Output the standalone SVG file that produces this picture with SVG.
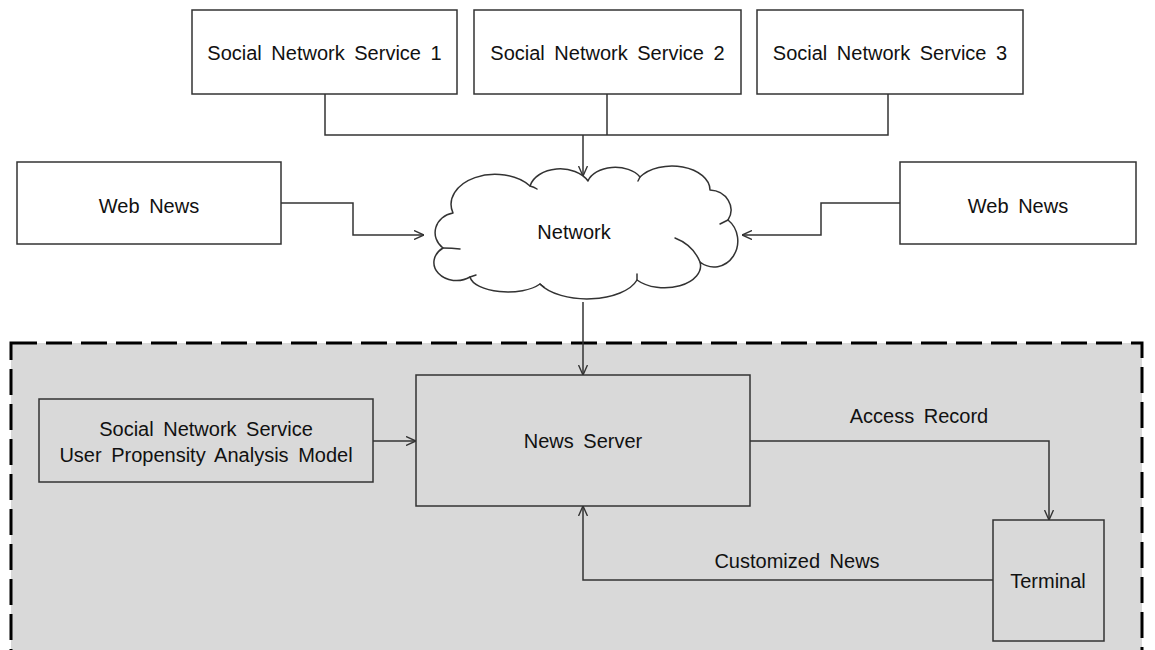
<svg xmlns="http://www.w3.org/2000/svg" width="1155" height="650" viewBox="0 0 1155 650">
  <style>
    .box { fill: #ffffff; stroke: #333333; stroke-width: 1.5; }
    .inner { fill: #d9d9d9; stroke: #333333; stroke-width: 1.5; }
    .lbl { font-family: "Liberation Sans", Arial, sans-serif; font-size: 20px; fill: #111111; text-anchor: middle; word-spacing: 4px; }
    .wire { fill: none; stroke: #333333; stroke-width: 1.5; }
    .cloud { fill: #ffffff; stroke: #333333; stroke-width: 1.5; stroke-linejoin: round; }
    .hook { fill: none; stroke: #333333; stroke-width: 1.5; stroke-linecap: round; }
  </style>
  <defs>
    <marker id="arrow" viewBox="0 0 10 10" refX="10" refY="5" markerWidth="10" markerHeight="10" markerUnits="userSpaceOnUse" orient="auto">
      <path d="M0,0.5 L10,5 L0,9.5" fill="none" stroke="#333333" stroke-width="1.4"/>
    </marker>
  </defs>

  <rect width="1155" height="650" fill="#ffffff"/>

  <!-- system boundary -->
  <g id="system-boundary">
    <rect x="11" y="343" width="1131" height="330" fill="#d9d9d9" stroke="#000000" stroke-width="3" stroke-dasharray="26 9"/>
  </g>

  <!-- connectors -->
  <g id="connectors">
    <path class="wire" d="M325,94 V135 H888 V94"/>
    <path class="wire" d="M607,94 V135"/>
    <path class="wire" d="M583,135 V176" marker-end="url(#arrow)"/>
    <path class="wire" d="M281,203 H353 V235 H424" marker-end="url(#arrow)"/>
    <path class="wire" d="M900,203 H821 V235 H742" marker-end="url(#arrow)"/>
    <path class="wire" d="M583,302 V375" marker-end="url(#arrow)"/>
    <path class="wire" d="M373,441 H416" marker-end="url(#arrow)"/>
    <path class="wire" d="M750,441 H1049 V520" marker-end="url(#arrow)"/>
    <path class="wire" d="M993,580 H583 V506" marker-end="url(#arrow)"/>
  </g>

  <g id="sns1">
    <rect class="box" x="192" y="10" width="265" height="84"/>
    <text class="lbl" x="324.5" y="60">Social Network Service 1</text>
  </g>
  <g id="sns2">
    <rect class="box" x="474" y="10" width="267" height="84"/>
    <text class="lbl" x="607.5" y="60">Social Network Service 2</text>
  </g>
  <g id="sns3">
    <rect class="box" x="757" y="10" width="266" height="84"/>
    <text class="lbl" x="890" y="60">Social Network Service 3</text>
  </g>

  <g id="web-news-left">
    <rect class="box" x="17" y="162" width="264" height="82"/>
    <text class="lbl" x="149" y="213">Web News</text>
  </g>
  <g id="web-news-right">
    <rect class="box" x="900" y="162" width="236" height="82"/>
    <text class="lbl" x="1018" y="213">Web News</text>
  </g>

  <g id="network">
    <path class="cloud" d="M453,213
      A44,30 0 0 1 530,186
      A31,22 0 0 1 588,181
      A28,18 0 0 1 640,177
      A38,24 0 0 1 710,190
      A22,20 0 0 1 728,220
      A22,24 0 0 1 700,262
      A36,22 0 0 1 637,280
      A52,26 0 0 1 540,284
      A38,17 0 0 1 470,277
      A20,16 0 0 1 443,248
      A22,20 0 0 1 453,213 Z"/>
    <path class="hook" d="M530,186 Q534,187 537,189"/>
    <path class="hook" d="M640,177 Q639,179 638,181"/>
    <path class="hook" d="M728,220 Q724,222 720,224"/>
    <path class="hook" d="M700,262 Q693,245 675,238"/>
    <path class="hook" d="M637,280 Q637,278 637,274"/>
    <path class="hook" d="M540,284 Q541,285 544,287"/>
    <path class="hook" d="M470,277 Q473,276 476,275"/>
    <path class="hook" d="M443,248 Q452,248 460,249"/>
    <text class="lbl" x="574" y="239">Network</text>
  </g>

  <g id="propensity-model">
    <rect class="inner" x="39" y="399" width="334" height="83"/>
    <text class="lbl" x="206" y="436">Social Network Service</text>
    <text class="lbl" x="206" y="462">User Propensity Analysis Model</text>
  </g>

  <g id="news-server">
    <rect class="inner" x="416" y="375" width="334" height="131"/>
    <text class="lbl" x="583" y="448">News Server</text>
  </g>

  <g id="terminal">
    <rect class="inner" x="993" y="520" width="111" height="121"/>
    <text class="lbl" x="1048" y="588">Terminal</text>
  </g>

  <g id="edge-labels">
    <text class="lbl" x="919" y="423">Access Record</text>
    <text class="lbl" x="797" y="568">Customized News</text>
  </g>
</svg>
